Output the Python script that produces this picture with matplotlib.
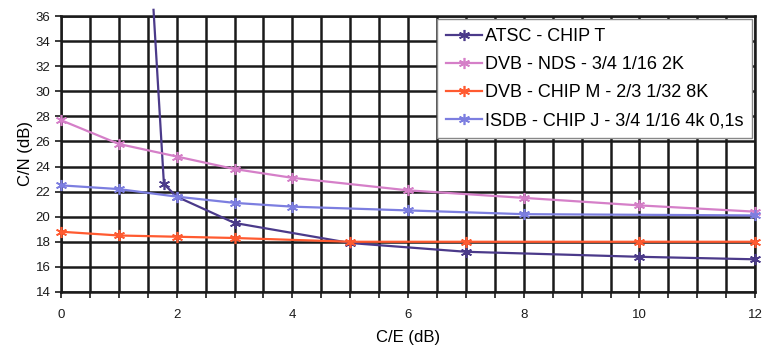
import numpy as np
import matplotlib.pyplot as plt
from matplotlib.ticker import MultipleLocator

plt.rcParams['font.family'] = ['Liberation Sans', 'DejaVu Sans']

# 数据
atsc_x = [1.6, 1.78, 2, 3, 5, 7, 10, 12]
atsc_y = [36.5, 22.6, 21.6, 19.5, 17.9, 17.2, 16.8, 16.6]

nds_x = [0, 1, 2, 3, 4, 6, 8, 10, 12]
nds_y = [27.7, 25.8, 24.8, 23.8, 23.1, 22.1, 21.5, 20.9, 20.4]

chipm_x = [0, 1, 2, 3, 5, 7, 10, 12]
chipm_y = [18.8, 18.5, 18.4, 18.3, 18.0, 18.0, 18.0, 18.0]

isdb_x = [0, 1, 2, 3, 4, 6, 8, 12]
isdb_y = [22.5, 22.2, 21.6, 21.1, 20.8, 20.5, 20.2, 20.1]

labels = ['ATSC - CHIP T', 'DVB - NDS - 3/4 1/16 2K',
          'DVB - CHIP M - 2/3 1/32 8K', 'ISDB - CHIP J - 3/4 1/16 4k 0,1s']
colors = ['#4B3A8A', '#D57FC8', '#FF5A30', '#7C7EE0']

fig = plt.figure(figsize=(7.62, 3.5), dpi=100)
ax = fig.add_axes([0.080, 0.166, 0.911, 0.788])

star = (6, 2, 0)
series = [(atsc_x, atsc_y), (nds_x, nds_y), (chipm_x, chipm_y), (isdb_x, isdb_y)]
for i, ((xs, ys), lab, c) in enumerate(zip(series, labels, colors)):
    # 第一条曲线顶端的点超出坐标范围，不画标记
    mk = list(range(1, len(xs))) if i == 0 else None
    ax.plot(xs, ys, color=c, linewidth=1.6, marker=star, markersize=8,
            markeredgewidth=1.2, markevery=mk, label=lab, zorder=4,
            clip_on=False)

ax.set_xlim(0, 12)
ax.set_ylim(14, 36)
ax.xaxis.set_major_locator(MultipleLocator(2))
ax.xaxis.set_minor_locator(MultipleLocator(0.5))
ax.yaxis.set_major_locator(MultipleLocator(2))
ax.grid(True, which='major', axis='y', color='#1a1a1a', linewidth=1.8)
ax.grid(True, which='both', axis='x', color='#1a1a1a', linewidth=1.8)
ax.set_axisbelow(True)
for s in ax.spines.values():
    s.set_color('#1a1a1a')
    s.set_linewidth(1.8)
ax.tick_params(axis='both', which='both', direction='out', length=4,
               width=1.2, labelsize=9.5, colors='#1a1a1a')
ax.tick_params(axis='x', pad=8)

ax.set_xlabel('C/E (dB)', fontsize=12, labelpad=7)
ax.set_ylabel('C/N (dB)', fontsize=12, labelpad=2)

leg = ax.legend(loc='upper right', fontsize=13, frameon=True, fancybox=False,
                edgecolor='#888888', framealpha=1, borderaxespad=0.15,
                handlelength=2.0, handletextpad=0.15, labelspacing=0.62,
                borderpad=0.5)
leg.get_frame().set_linewidth(1.0)
leg.set_zorder(10)

fig.savefig('out.png', dpi=100, facecolor='white')
